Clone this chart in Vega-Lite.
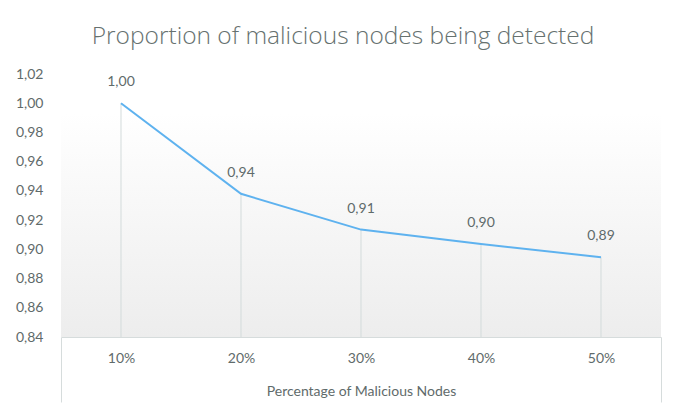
{
  "$schema": "https://vega.github.io/schema/vega-lite/v6.json",
  "width": 600,
  "height": 263,
  "autosize": {"type": "none"},
  "padding": {"left": 61, "top": 74, "right": 24, "bottom": 80},
  "background": "white",
  "title": {
    "text": "Proportion of malicious nodes being detected",
    "font": "Open Sans",
    "fontSize": 24.5,
    "fontWeight": 300,
    "color": "#66716f",
    "anchor": "middle",
    "frame": "group",
    "dx": -18,
    "offset": 18
  },
  "config": {
    "view": {"stroke": null},
    "font": "Lato",
    "locale": {
      "number": {"decimal": ",", "thousands": ".", "grouping": [3], "currency": ["", " €"]}
    }
  },
  "data": {
    "values": [
      {"pct": "10%", "value": 1.0},
      {"pct": "20%", "value": 0.938},
      {"pct": "30%", "value": 0.9135},
      {"pct": "40%", "value": 0.9037},
      {"pct": "50%", "value": 0.8946}
    ]
  },
  "encoding": {
    "x": {
      "field": "pct",
      "type": "ordinal",
      "sort": null,
      "scale": {"type": "band", "paddingInner": 0, "paddingOuter": 0},
      "axis": {
        "title": "Percentage of Malicious Nodes",
        "titleFont": "Lato",
        "titleFontSize": 14,
        "titleFontWeight": "normal",
        "titleColor": "#5f6b6b",
        "titleY": 54,
        "titleBaseline": "middle",
        "labelFont": "Lato",
        "labelFontSize": 14,
        "labelColor": "#5f6b6b",
        "labelAngle": 0,
        "labelPadding": -51,
        "labelOffset": {"expr": "(datum.index === 0 ? 1 : -1) * bandwidth('x') / 2"},
        "domainColor": "#d6dcdc",
        "domainWidth": 1,
        "ticks": true,
        "tickSize": 65,
        "tickWidth": 1,
        "tickOffset": {"expr": "(datum.index === 0 ? -1 : 1) * bandwidth('x') / 2"},
        "tickColor": {"condition": {"test": "datum.index === 0 || datum.index === 1", "value": "#d6dcdc"}, "value": "transparent"},
        "grid": false
      }
    },
    "y": {
      "field": "value",
      "type": "quantitative",
      "scale": {"domain": [0.84, 1.02], "zero": false, "nice": false},
      "axis": {
        "title": null,
        "values": [0.84, 0.86, 0.88, 0.9, 0.92, 0.94, 0.96, 0.98, 1.0, 1.02],
        "format": ".2f",
        "labelOverlap": false,
        "labelFont": "Lato",
        "labelFontSize": 14,
        "labelColor": "#5f6b6b",
        "labelPadding": 18,
        "domain": false,
        "ticks": false,
        "grid": false
      }
    }
  },
  "layer": [
    {
      "data": {"values": [{"bg": 1}]},
      "mark": {
        "type": "rect",
        "color": {
          "gradient": "linear",
          "x1": 0, "y1": 0, "x2": 0, "y2": 1,
          "stops": [
            {"offset": 0, "color": "#ffffff"},
            {"offset": 0.15, "color": "#ffffff"},
            {"offset": 1, "color": "#ededed"}
          ]
        }
      },
      "encoding": {"x": null, "y": null}
    },
    {
      "mark": {"type": "rule", "color": "#d3dbdb", "strokeWidth": 1},
      "encoding": {
        "y2": {"datum": 0.84}
      }
    },
    {
      "mark": {"type": "line", "color": "#5eb2ef", "strokeWidth": 2},
      "encoding": {}
    },
    {
      "mark": {"type": "text", "dy": -21, "font": "Lato", "fontSize": 14, "color": "#5f6b6b"},
      "encoding": {
        "text": {"field": "value", "type": "quantitative", "format": ".2f"}
      }
    }
  ]
}
